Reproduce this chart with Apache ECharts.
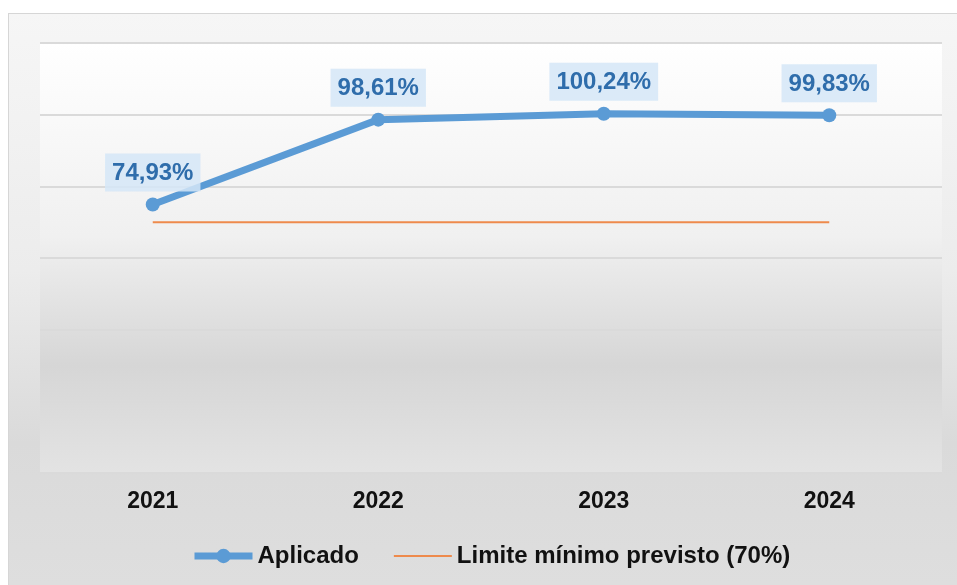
<!DOCTYPE html>
<html>
<head>
<meta charset="utf-8">
<script src="https://cdn.jsdelivr.net/npm/echarts@6/dist/echarts.min.js"></script>
<style>
  html, body { margin: 0; padding: 0; background: #ffffff; }
  #frame {
    position: absolute; left: 8px; top: 13px; width: 948px; height: 571px;
    border: 1px solid #d6d6d6; border-right: none; border-bottom: none;
    background: linear-gradient(to bottom, #f6f6f6 0%, #ececec 45%, #dadada 75%, #dedede 100%);
  }
  #chart { width: 948px; height: 571px; }
</style>
</head>
<body>
<div id="frame"><div id="chart"></div></div>
<script>
// Categories and values
const years = ['2021', '2022', '2023', '2024'];
const aplicado = [74.93, 98.61, 100.24, 99.83];
const limiteMinimo = [70, 70, 70, 70];
const yTicks = { min: 0, max: 120, interval: 20 };

const fmtPct = v => v.toFixed(2).replace('.', ',') + '%';

const chart = echarts.init(document.getElementById('chart'), null, { renderer: 'canvas' });

chart.setOption({
  animation: false,
  textStyle: { fontFamily: 'Liberation Sans, Arial, sans-serif' },
  grid: {
    left: 31, right: 15, top: 29, bottom: 112,
    show: true, borderWidth: 0,
    backgroundColor: {
      type: 'linear', x: 0, y: 0, x2: 0, y2: 1,
      colorStops: [
        { offset: 0, color: '#ffffff' },
        { offset: 0.45, color: '#f0f0f0' },
        { offset: 0.75, color: '#d6d6d6' },
        { offset: 1, color: '#e3e3e3' }
      ]
    }
  },
  xAxis: {
    type: 'category',
    data: years,
    boundaryGap: true,
    axisLine: { show: false },
    axisTick: { show: false },
    axisLabel: { color: '#111111', fontWeight: 'bold', fontSize: 23, margin: 17 }
  },
  yAxis: {
    type: 'value',
    min: yTicks.min, max: yTicks.max, interval: yTicks.interval,
    axisLabel: { show: false },
    axisLine: { show: false },
    axisTick: { show: false },
    splitLine: { lineStyle: { color: '#dadada', width: 2 } }
  },
  legend: {
    bottom: 12,
    left: 177,
    itemGap: 34,
    itemWidth: 58,
    itemHeight: 18,
    textStyle: { color: '#111111', fontWeight: 'bold', fontSize: 24 },
    data: [
      { name: 'Aplicado', lineStyle: { width: 7, color: '#5b9bd5' } },
      { name: 'Limite mínimo previsto (70%)', lineStyle: { width: 2, color: '#ee8a4c' }, itemStyle: { opacity: 0 } }
    ]
  },
  series: [
    {
      name: 'Limite mínimo previsto (70%)',
      type: 'line',
      data: limiteMinimo,
      symbol: 'none',
      lineStyle: { color: '#ee8a4c', width: 2 },
      itemStyle: { color: '#ee8a4c' },
      z: 2
    },
    {
      name: 'Aplicado',
      type: 'line',
      data: aplicado,
      symbol: 'circle',
      symbolSize: 14,
      lineStyle: { color: '#5b9bd5', width: 7 },
      itemStyle: { color: '#5b9bd5' },
      z: 3,
      label: {
        show: true,
        position: 'top',
        distance: 6,
        formatter: p => fmtPct(p.value),
        color: '#2f6dab',
        fontWeight: 'bold',
        fontSize: 24,
        backgroundColor: 'rgba(213,230,247,0.85)',
        padding: [8, 7, 6, 7]
      }
    }
  ]
});
</script>
</body>
</html>
